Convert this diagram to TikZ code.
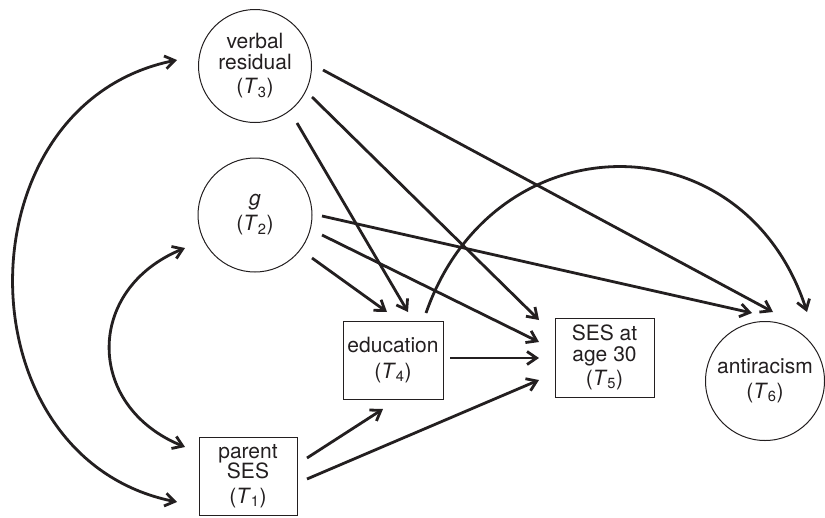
\documentclass[tikz,border=0pt]{standalone}
\usepackage{fontspec}
\setmainfont{TeX Gyre Heros}
\usetikzlibrary{arrows.meta,calc}
\definecolor{ink}{HTML}{231F20}
\newcommand{\tlab}[1]{(\textit{T}\textsubscript{#1})}
\begin{document}
\begin{tikzpicture}[x=1pt,y=-1pt,
  every node/.style={font=\fontsize{21}{20.5}\selectfont, text=ink, align=center, inner sep=0pt},
  latent/.style={circle, draw=ink, line width=1pt, minimum size=113pt},
  observed/.style={rectangle, draw=ink, line width=1pt},
  causal/.style={draw=ink, line width=2.8pt, -{Straight Barb[length=9.5pt,width=13pt]}},
  cov/.style={draw=ink, line width=2.8pt, {Straight Barb[length=9.5pt,width=13pt]}-{Straight Barb[length=9.5pt,width=13pt]}}
]
\useasboundingbox (0,0) rectangle (825,517);

\node[latent] (T3) at (255,66) {verbal\\residual\\[4pt]\tlab{3}};
\node[latent, minimum size=114pt] (T2) at (255,215) {\textit{g}\\[4.5pt]\tlab{2}};
\node[latent, minimum size=119pt] (T6) at (765,381) {antiracism\\[4.5pt]\tlab{6}};
\node[observed, minimum width=100pt, minimum height=78pt] (T4) at (393,360) {education\\[5pt]\tlab{4}};
\node[observed, minimum width=99pt, minimum height=79pt] (T5) at (604.5,357.5) {SES at\\age 30\\[4pt]\tlab{5}};
\node[observed, minimum width=98pt, minimum height=78pt] (T1) at (248,476) {parent\\SES\\[4pt]\tlab{1}};

% covariances
\draw[cov] ($(T3)+(-78,-6)$) .. controls +(-218,44) and +(-218,-44) .. ($(T1)+(-71,26)$);
\draw[cov] ($(T2)+(-70,33)$) .. controls +(-100,41) and +(-100,-41) .. ($(T1)+(-63,-29)$);

% paths
\draw[causal] ($(T3)+(42,57)$) -- ($(T4)+(15,-48)$);
\draw[causal] ($(T3)+(57,31)$) -- ($(T5)+(-65.5,-37.5)$);
\draw[causal] ($(T3)+(68,4)$) -- ($(T6)+(8,-69)$);
\draw[causal] ($(T2)+(57,43)$) -- ($(T4)+(-6,-48)$);
\draw[causal] ($(T2)+(67,20)$) -- ($(T5)+(-65.5,-15.5)$);
\draw[causal] ($(T2)+(67,1)$) -- ($(T6)+(-13,-68)$);
\draw[causal] ($(T4)+(57,-2)$) -- ($(T5)+(-65.5,0.5)$);
\draw[causal] ($(T1)+(59,-18)$) -- ($(T4)+(-10,49)$);
\draw[causal] ($(T1)+(59,3)$) -- ($(T5)+(-65.5,22.5)$);
\draw[causal] ($(T4)+(33,-47)$) .. controls +(68,-194) and +(-63,-194) .. ($(T6)+(42,-69)$);
\end{tikzpicture}
\end{document}
